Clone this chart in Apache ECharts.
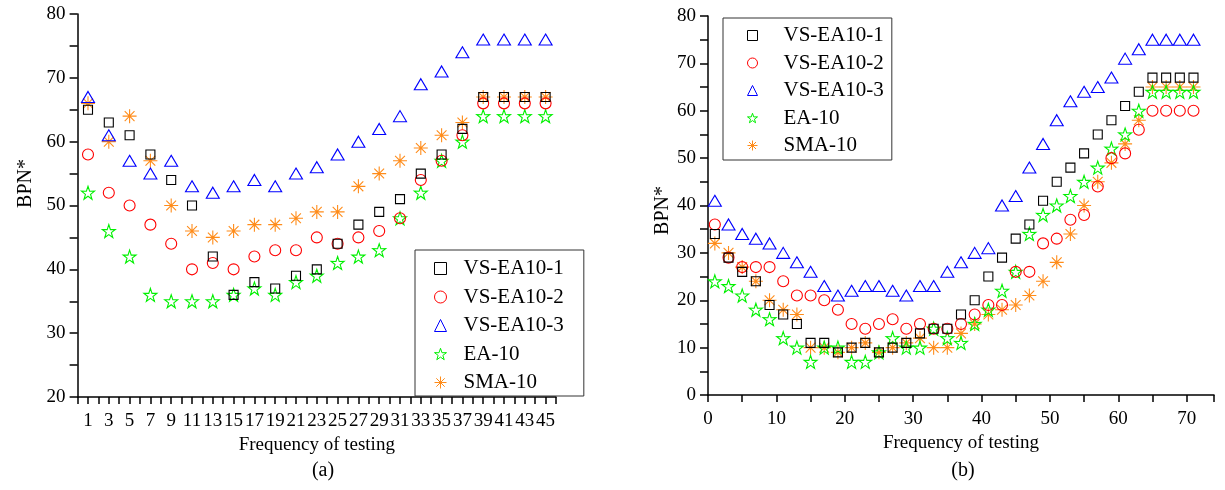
<!DOCTYPE html>
<html>
<head>
<meta charset="utf-8">
<script src="https://cdn.jsdelivr.net/npm/echarts@6/dist/echarts.min.js"></script>
<style>
html,body{margin:0;padding:0;background:#fff;}
#c{width:1225px;height:490px;}
</style>
</head>
<body>
<div id="c"></div>
<script>
// ---------- data ----------
const seriesNames = ['VS-EA10-1', 'VS-EA10-2', 'VS-EA10-3', 'EA-10', 'SMA-10'];

// chart (a)
const xA = [1,3,5,7,9,11,13,15,17,19,21,23,25,27,29,31,33,35,37,39,41,43,45];
const a_vs1 = [65,63,61,58,54,50,42,36,38,37,39,40,44,47,49,51,55,58,62,67,67,67,67];
const a_vs2 = [58,52,50,47,44,40,41,40,42,43,43,45,44,45,46,48,54,57,61,66,66,66,66];
const a_vs3 = [67,61,57,55,57,53,52,53,54,53,55,56,58,60,62,64,69,71,74,76,76,76,76];
const a_ea  = [52,46,42,36,35,35,35,36,37,36,38,39,41,42,43,48,52,57,60,64,64,64,64];
const a_sma = [66,60,64,57,50,46,45,46,47,47,48,49,49,53,55,57,59,61,63,67,67,67,67];

// chart (b)
const xB = [1,3,5,7,9,11,13,15,17,19,21,23,25,27,29,31,33,35,37,39,41,43,45,47,49,51,53,55,57,59,61,63,65,67,69,71];
const b_vs1 = [34,29,26,24,19,17,15,11,11,9,10,11,9,10,11,13,14,14,17,20,25,29,33,36,41,45,48,51,55,58,61,64,67,67,67,67];
const b_vs2 = [36,29,27,27,27,24,21,21,20,18,15,14,15,16,14,15,14,14,15,17,19,19,26,26,32,33,37,38,44,50,51,56,60,60,60,60];
const b_vs3 = [41,36,34,33,32,30,28,26,23,21,22,23,23,22,21,23,23,26,28,30,31,40,42,48,53,58,62,64,65,67,71,73,75,75,75,75];
const b_ea  = [24,23,21,18,16,12,10,7,10,10,7,7,9,12,10,10,14,12,11,15,18,22,26,34,38,40,42,45,48,52,55,60,64,64,64,64];
const b_sma = [32,30,27,24,20,18,17,10,10,9,10,11,9,10,11,12,10,10,13,15,17,18,19,21,24,28,34,40,45,49,53,58,65,65,65,65];

const yTicksA = [20,30,40,50,60,70,80];
const yTicksB = [0,10,20,30,40,50,60,70,80];
const xTicksB = [0,10,20,30,40,50,60,70];

// ---------- styling ----------
const FONT = "'Liberation Serif','Times New Roman',serif";
const STAR = 'path://M50,0 L61.8,35.1 L97.6,34.5 L68.7,56.4 L79.4,90.5 L50,70 L20.6,90.5 L31.3,56.4 L2.4,34.5 L38.2,35.1 Z';
const AST = 'path://M50,0 L50,100 M0,50 L100,50 M15,15 L85,85 M85,15 L15,85';
const styles = [
  {symbol:'rect', size:9, color:'#000000'},
  {symbol:'circle', size:11, color:'#ff0000'},
  {symbol:'triangle', size:[13,11], color:'#0000ff'},
  {symbol:STAR, size:13, color:'#00f000'},
  {symbol:AST, size:14, color:'#ff8c1a'}
];

function zip(xs, ys){ return xs.map((x,i)=>[x, ys[i]]); }

function mkSeries(xs, data, gi){
  return data.map((ys, k)=>({
    name: seriesNames[k],
    type: 'scatter',
    xAxisIndex: gi, yAxisIndex: gi,
    data: zip(xs, ys),
    symbol: styles[k].symbol,
    symbolSize: styles[k].size,
    itemStyle: {color: 'rgba(255,255,255,0)', borderColor: styles[k].color, borderWidth: 1.1, opacity: 1},
    emphasis: {disabled: true},
    z: 10 - k
  }));
}

const axisLineStyle = {show:true, lineStyle:{color:'#000', width:1.5}};
const labelStyle = {color:'#000', fontFamily:FONT, fontSize:19};

const chart = echarts.init(document.getElementById('c'), null, {renderer:'canvas'});

const option = {
  animation: false,
  backgroundColor: '#fff',
  grid: [
    {left: 77.6, top: 14, width: 478.4, height: 383, containLabel:false},
    {left: 708, top: 16, width: 506, height: 379, containLabel:false}
  ],
  xAxis: [
    {
      gridIndex:0, type:'value', min:0, max:46, interval:1,
      name:'Frequency of testing', nameLocation:'middle', nameGap:38,
      nameTextStyle:{color:'#000', fontFamily:FONT, fontSize:19},
      axisLine: axisLineStyle,
      axisTick:{show:true, inside:false, length:7, lineStyle:{color:'#000', width:1.5}},
      axisLabel:Object.assign({margin:15, showMinLabel:true, showMaxLabel:true,
        formatter: v => (xA.indexOf(v) >= 0 ? String(v) : '')}, labelStyle),
      splitLine:{show:false}
    },
    {
      gridIndex:1, type:'value', min:0, max:74, interval:10,
      name:'Frequency of testing', nameLocation:'middle', nameGap:38,
      nameTextStyle:{color:'#000', fontFamily:FONT, fontSize:19},
      axisLine: axisLineStyle,
      axisTick:{show:true, inside:false, length:7, lineStyle:{color:'#000', width:1.5}},
      minorTick:{show:true, splitNumber:2, length:7, lineStyle:{color:'#000', width:1.5}},
      axisLabel:Object.assign({margin:15, showMaxLabel:false,
        formatter: v => (xTicksB.indexOf(v) >= 0 ? String(v) : '')}, labelStyle),
      splitLine:{show:false}
    }
  ],
  yAxis: [
    {
      gridIndex:0, type:'value', min:20, max:80, interval:10,
      name:'BPN*', nameLocation:'middle', nameGap:42, nameRotate:90,
      nameTextStyle:{color:'#000', fontFamily:FONT, fontSize:20, padding:[0,0,0,44]},
      axisLine: axisLineStyle,
      axisTick:{show:true, inside:false, length:8, lineStyle:{color:'#000', width:1.5}},
      minorTick:{show:true, splitNumber:2, length:8, lineStyle:{color:'#000', width:1.5}},
      axisLabel:Object.assign({margin:12, formatter: v => (yTicksA.indexOf(v) >= 0 ? String(v) : '')}, labelStyle),
      splitLine:{show:false}
    },
    {
      gridIndex:1, type:'value', min:0, max:80, interval:10,
      name:'BPN*', nameLocation:'middle', nameGap:30, nameRotate:90,
      nameTextStyle:{color:'#000', fontFamily:FONT, fontSize:20, padding:[0,10,0,0]},
      axisLine: axisLineStyle,
      axisTick:{show:true, inside:false, length:8, lineStyle:{color:'#000', width:1.5}},
      minorTick:{show:true, splitNumber:2, length:8, lineStyle:{color:'#000', width:1.5}},
      axisLabel:Object.assign({margin:12, formatter: v => (yTicksB.indexOf(v) >= 0 ? String(v) : '')}, labelStyle),
      splitLine:{show:false}
    }
  ],
  title: [
    {text:'(a)', left:318, top:456, textAlign:'center', textStyle:{color:'#000', fontFamily:FONT, fontSize:20, fontWeight:'normal'}},
    {text:'(b)', left:958, top:456, textAlign:'center', textStyle:{color:'#000', fontFamily:FONT, fontSize:20, fontWeight:'normal'}}
  ],
  legend: [
    {
      orient:'vertical', left:415, top:250, selectedMode:false,
      data: seriesNames,
      itemWidth:12, itemHeight:12, itemGap:7.5,
      padding:[8,20,3,19],
      itemStyle:{borderWidth:1},
      borderColor:'#333', borderWidth:1, backgroundColor:'#fff',
      textStyle:{color:'#000', fontFamily:FONT, fontSize:21, padding:[0,0,0,12]}
    },
    {
      orient:'vertical', left:723, top:18, selectedMode:false,
      data: seriesNames,
      itemWidth:10, itemHeight:10, itemGap:6.5,
      padding:[7,8,4,24],
      itemStyle:{borderWidth:1},
      borderColor:'#333', borderWidth:1, backgroundColor:'#fff',
      textStyle:{color:'#000', fontFamily:FONT, fontSize:21, padding:[0,0,0,21]}
    }
  ],
  series: [].concat(
    mkSeries(xA, [a_vs1, a_vs2, a_vs3, a_ea, a_sma], 0),
    mkSeries(xB, [b_vs1, b_vs2, b_vs3, b_ea, b_sma], 1)
  )
};
chart.setOption(option);
</script>
</body>
</html>
